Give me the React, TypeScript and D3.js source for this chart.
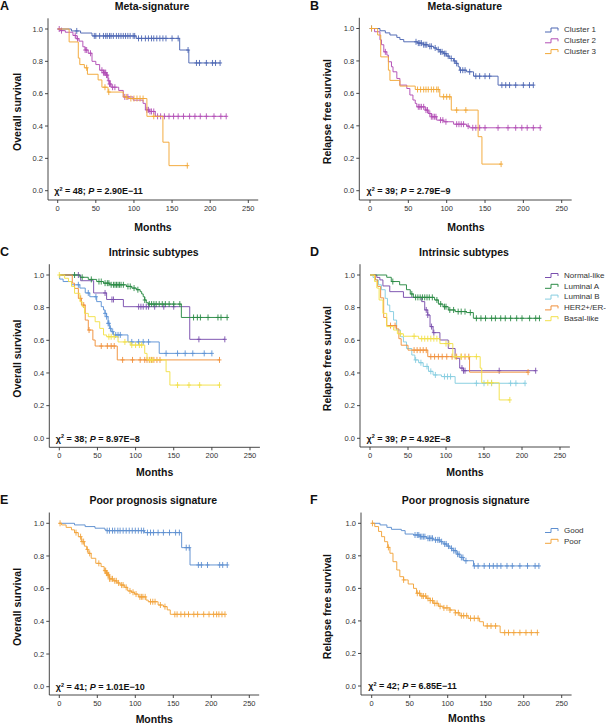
import React from 'react';
import * as d3 from 'd3';

type Step = [number, number];

const monthTicks = [0, 50, 100, 150, 200, 250];
const survTicks = [0, 0.2, 0.4, 0.6, 0.8, 1.0];

// ---------- Panel A: Meta-signature, overall survival ----------
const A_c1_steps: Step[] = [[18, 0.988], [30, 0.975], [45, 0.957], [103, 0.942], [160, 0.87], [172, 0.79]];
const A_c1_censor = [25, 48, 50, 55, 60, 63, 65, 68, 70, 73, 77, 80, 83, 86, 89, 92, 95, 99, 101, 106, 110, 115, 119, 123, 126, 130, 134, 138, 142, 150, 158, 171, 182, 186, 195, 203, 207, 213];
const A_c2_steps: Step[] = [[3, 0.99], [10, 0.98], [20, 0.96], [24, 0.94], [28, 0.925], [33, 0.89], [36, 0.87], [40, 0.85], [45, 0.8], [50, 0.78], [55, 0.745], [60, 0.73], [64, 0.715], [66, 0.68], [68, 0.66], [70, 0.64], [80, 0.62], [86, 0.58], [99, 0.56], [112, 0.54], [115, 0.5], [120, 0.49], [128, 0.46]];
const A_c2_censor = [2, 5, 23, 26, 36, 38, 43, 58, 60, 61, 62, 63, 64, 65, 67, 68, 69, 72, 75, 88, 92, 117, 119, 121, 123, 126, 131, 135, 140, 146, 152, 158, 165, 173, 180, 187, 195, 205, 214, 221];
const A_c3_steps: Step[] = [[15, 0.92], [27, 0.82], [29, 0.78], [35, 0.76], [39, 0.72], [53, 0.685], [58, 0.64], [66, 0.61], [86, 0.58], [92, 0.57], [117, 0.46], [138, 0.3], [146, 0.155]];
const A_c3_censor = [38, 62, 67, 90, 96, 100, 104, 108, 112, 126, 170];

// ---------- Panel B: Meta-signature, relapse free survival ----------
const B_c1_steps: Step[] = [[13, 0.986], [20, 0.973], [26, 0.96], [35, 0.945], [39, 0.932], [44, 0.918], [62, 0.91], [70, 0.9], [76, 0.89], [83, 0.88], [87, 0.87], [91, 0.856], [96, 0.845], [100, 0.83], [104, 0.815], [109, 0.8], [112, 0.785], [115, 0.764], [117, 0.743], [126, 0.733], [135, 0.706], [167, 0.651]];
const B_c1_censor = [2, 60, 63, 65, 67, 70, 72, 74, 78, 80, 85, 89, 92, 94, 97, 99, 102, 106, 110, 113, 118, 121, 124, 130, 138, 143, 150, 156, 172, 177, 182, 190, 200, 208, 213];
const B_c2_steps: Step[] = [[6, 0.98], [13, 0.93], [15, 0.9], [18, 0.856], [22, 0.836], [24, 0.795], [28, 0.764], [30, 0.733], [35, 0.692], [39, 0.651], [48, 0.63], [52, 0.59], [56, 0.559], [59, 0.538], [61, 0.517], [72, 0.497], [76, 0.476], [80, 0.456], [87, 0.435], [96, 0.425], [109, 0.41], [126, 0.398], [130, 0.388]];
const B_c2_censor = [20, 63, 65, 67, 70, 73, 75, 78, 80, 82, 84, 86, 92, 95, 99, 113, 116, 119, 122, 128, 134, 138, 143, 150, 167, 180, 190, 198, 205, 213, 222];
const B_c3_steps: Step[] = [[10, 0.96], [14, 0.825], [24, 0.743], [26, 0.68], [39, 0.645], [59, 0.624], [91, 0.579], [106, 0.497], [141, 0.333], [146, 0.164]];
const B_c3_censor = [2, 62, 66, 70, 73, 76, 80, 83, 87, 89, 96, 100, 104, 113, 125, 171];

// ---------- Panel C: Intrinsic subtypes, overall survival ----------
const C_norm_steps: Step[] = [[28, 0.965], [45, 0.89], [62, 0.85], [84, 0.806], [171, 0.606]];
const C_norm_censor = [25, 60, 69, 71, 104, 107, 110, 114, 117, 125, 137, 150, 183, 217];
const C_lumA_steps: Step[] = [[27, 0.986], [38, 0.973], [49, 0.96], [58, 0.95], [66, 0.94], [88, 0.93], [95, 0.92], [101, 0.91], [106, 0.898], [108, 0.884], [110, 0.867], [112, 0.847], [114, 0.83], [117, 0.822], [160, 0.74]];
const C_lumA_censor = [20, 30, 42, 52, 55, 60, 63, 65, 68, 71, 73, 75, 77, 79, 81, 84, 90, 93, 98, 103, 112, 118, 121, 124, 127, 131, 135, 139, 144, 150, 158, 176, 181, 185, 195, 208, 212, 220];
const C_lumB_steps: Step[] = [[0.5, 0.975], [5, 0.96], [16, 0.94], [27, 0.92], [34, 0.89], [40, 0.867], [49, 0.837], [55, 0.806], [58, 0.786], [60, 0.765], [62, 0.745], [64, 0.704], [66, 0.673], [68, 0.653], [71, 0.633], [90, 0.59], [131, 0.52]];
const C_lumB_censor = [25, 38, 48, 60, 62, 64, 65, 67, 70, 74, 77, 80, 95, 104, 110, 117, 140, 155, 165, 175, 190, 200];
const C_her2_steps: Step[] = [[17, 0.95], [20, 0.918], [25, 0.857], [29, 0.816], [34, 0.724], [38, 0.663], [44, 0.602], [47, 0.565], [76, 0.48]];
const C_her2_censor = [28, 32, 39, 55, 63, 68, 72, 83, 96, 106, 112, 115, 118, 121, 124, 128, 132, 210];
const C_basal_steps: Step[] = [[7, 0.98], [12, 0.96], [16, 0.93], [20, 0.888], [27, 0.837], [30, 0.806], [33, 0.765], [38, 0.745], [47, 0.714], [53, 0.673], [58, 0.633], [62, 0.622], [77, 0.59], [93, 0.571], [112, 0.52], [115, 0.48], [140, 0.408], [145, 0.326]];
const C_basal_censor = [0, 65, 68, 72, 86, 95, 100, 105, 108, 119, 122, 155, 170, 184, 210];

// ---------- Panel D: Intrinsic subtypes, relapse free survival ----------
const D_norm_steps: Step[] = [[9, 0.985], [13, 0.97], [17, 0.933], [26, 0.898], [44, 0.863], [68, 0.837], [72, 0.786], [76, 0.755], [79, 0.684], [83, 0.647], [92, 0.602], [103, 0.55], [112, 0.49], [118, 0.43], [123, 0.414]];
const D_norm_censor = [74, 76, 81, 84, 121, 123, 125, 170, 218];
const D_lumA_steps: Step[] = [[22, 0.986], [28, 0.96], [39, 0.94], [48, 0.91], [53, 0.884], [57, 0.863], [85, 0.847], [90, 0.822], [96, 0.806], [103, 0.786], [112, 0.776], [127, 0.77], [136, 0.735]];
const D_lumA_censor = [30, 55, 60, 63, 66, 69, 72, 75, 78, 82, 88, 93, 98, 100, 105, 110, 116, 120, 125, 132, 140, 146, 152, 160, 165, 172, 178, 185, 193, 200, 210, 218, 223];
const D_lumB_steps: Step[] = [[4, 0.985], [7, 0.97], [11, 0.94], [15, 0.91], [20, 0.857], [23, 0.816], [26, 0.776], [31, 0.724], [35, 0.663], [40, 0.622], [44, 0.59], [48, 0.55], [55, 0.51], [59, 0.48], [64, 0.463], [70, 0.44], [77, 0.41], [83, 0.388], [94, 0.378], [112, 0.337]];
const D_lumB_censor = [60, 67, 75, 80, 86, 98, 102, 106, 140, 150, 160, 185, 192, 204];
const D_her2_steps: Step[] = [[7, 0.97], [10, 0.93], [14, 0.86], [18, 0.74], [22, 0.69], [35, 0.67], [38, 0.61], [41, 0.57], [50, 0.54], [76, 0.5], [131, 0.405]];
const D_her2_censor = [27, 33, 58, 62, 66, 70, 74, 80, 85, 90, 95, 101, 108, 114, 120, 125, 130, 208];
const D_basal_steps: Step[] = [[6, 0.96], [9, 0.92], [12, 0.847], [17, 0.765], [22, 0.684], [31, 0.663], [36, 0.64], [44, 0.625], [64, 0.61], [92, 0.58], [109, 0.5], [145, 0.43], [147, 0.34], [170, 0.235]];
const D_basal_censor = [40, 58, 68, 72, 76, 80, 84, 88, 100, 104, 112, 120, 140, 155, 160, 184];

// ---------- Panel E: Poor prognosis signature, overall survival ----------
const E_good_steps: Step[] = [[20, 0.99], [34, 0.98], [47, 0.97], [60, 0.96], [62, 0.955], [112, 0.943], [161, 0.851], [172, 0.745]];
const E_good_censor = [63, 66, 70, 73, 77, 80, 84, 88, 92, 96, 100, 104, 108, 111, 116, 120, 124, 130, 137, 145, 153, 158, 167, 171, 183, 187, 195, 211, 215, 221];
const E_poor_steps: Step[] = [[3, 0.99], [9, 0.975], [16, 0.96], [20, 0.943], [25, 0.918], [29, 0.888], [33, 0.86], [36, 0.84], [38, 0.816], [42, 0.786], [48, 0.755], [55, 0.735], [59, 0.71], [62, 0.695], [64, 0.684], [66, 0.66], [71, 0.648], [76, 0.635], [80, 0.622], [86, 0.608], [90, 0.586], [95, 0.578], [99, 0.567], [104, 0.55], [114, 0.53], [117, 0.52], [130, 0.5], [137, 0.49], [142, 0.47], [146, 0.443]];
const E_poor_censor = [1, 22, 28, 30, 32, 37, 40, 52, 60, 61, 62, 63, 64, 65, 66, 68, 70, 73, 75, 78, 82, 84, 88, 93, 97, 101, 106, 108, 110, 113, 120, 123, 126, 133, 139, 152, 155, 160, 165, 170, 177, 182, 190, 197, 203, 207, 210, 214, 218];

// ---------- Panel F: Poor prognosis signature, relapse free survival ----------
const F_good_steps: Step[] = [[11, 0.99], [20, 0.975], [26, 0.963], [39, 0.955], [44, 0.934], [55, 0.928], [64, 0.918], [72, 0.908], [81, 0.898], [90, 0.887], [94, 0.873], [99, 0.86], [103, 0.846], [107, 0.832], [112, 0.81], [116, 0.79], [121, 0.77], [134, 0.738]];
const F_good_censor = [57, 60, 62, 64, 66, 68, 70, 74, 76, 78, 80, 84, 87, 89, 92, 96, 98, 101, 105, 108, 110, 113, 115, 118, 120, 124, 135, 140, 148, 155, 160, 165, 170, 178, 185, 195, 205, 215, 220];
const F_poor_steps: Step[] = [[4, 0.98], [9, 0.95], [13, 0.918], [17, 0.887], [21, 0.852], [24, 0.816], [28, 0.764], [33, 0.713], [37, 0.672], [42, 0.652], [48, 0.627], [55, 0.6], [59, 0.57], [64, 0.553], [72, 0.539], [77, 0.525], [81, 0.508], [88, 0.49], [94, 0.48], [103, 0.467], [110, 0.45], [116, 0.432], [127, 0.416], [142, 0.395], [147, 0.369], [169, 0.328]];
const F_poor_censor = [1, 22, 42, 60, 63, 66, 68, 71, 74, 77, 80, 83, 86, 90, 95, 99, 103, 110, 114, 118, 121, 125, 130, 135, 140, 152, 157, 163, 175, 180, 187, 195, 203, 210, 218];

// ---------- colours ----------
const C1 = '#4d66b3';
const C2 = '#b24fb5';
const C3 = '#f2a838';
const NORM = '#7a4fae';
const LUMA = '#2a8a45';
const LUMB_OS = '#5e93d6';
const LUMB_RFS = '#86cde0';
const HER2 = '#f0903a';
const BASAL = '#f2e04a';
const GOOD = '#5e8fd0';
const POOR = '#f2a43c';

interface Curve { name: string; color: string; steps: Step[]; censor: number[] }
interface Layout { yAxisX: number; x0: number; x250: number; y1: number; y0: number; axisY: number; letterX: number; monthsDy: number; legendY?: number }
interface Panel { letter: string; title: string; yLabel: string; chi: string; p: string; curves: Curve[]; legend: boolean; layout: Layout }

const panels: Panel[] = [
  {
    letter: 'A', title: 'Meta-signature', yLabel: 'Overall survival', chi: '48', p: '2.90E\u221211', legend: false,
    curves: [
      { name: 'Cluster 1', color: C1, steps: A_c1_steps, censor: A_c1_censor },
      { name: 'Cluster 2', color: C2, steps: A_c2_steps, censor: A_c2_censor },
      { name: 'Cluster 3', color: C3, steps: A_c3_steps, censor: A_c3_censor },
    ],
    layout: { yAxisX: 48, x0: 57.7, x250: 248.3, y1: 29, y0: 190.7, axisY: 200, letterX: 0, monthsDy: 31 },
  },
  {
    letter: 'B', title: 'Meta-signature', yLabel: 'Relapse free survival', chi: '39', p: '2.79E\u22129', legend: true,
    curves: [
      { name: 'Cluster 1', color: C1, steps: B_c1_steps, censor: B_c1_censor },
      { name: 'Cluster 2', color: C2, steps: B_c2_steps, censor: B_c2_censor },
      { name: 'Cluster 3', color: C3, steps: B_c3_steps, censor: B_c3_censor },
    ],
    layout: { yAxisX: 359.3, x0: 370, x250: 561.7, y1: 28.5, y0: 190.7, axisY: 200, letterX: 310, monthsDy: 31, legendY: 29.5 },
  },
  {
    letter: 'C', title: 'Intrinsic subtypes', yLabel: 'Overall survival', chi: '38', p: '8.97E\u22128', legend: false,
    curves: [
      { name: 'Normal-like', color: NORM, steps: C_norm_steps, censor: C_norm_censor },
      { name: 'Luminal A', color: LUMA, steps: C_lumA_steps, censor: C_lumA_censor },
      { name: 'Luminal B', color: LUMB_OS, steps: C_lumB_steps, censor: C_lumB_censor },
      { name: 'HER2+/ER-', color: HER2, steps: C_her2_steps, censor: C_her2_censor },
      { name: 'Basal-like', color: BASAL, steps: C_basal_steps, censor: C_basal_censor },
    ],
    layout: { yAxisX: 49.3, x0: 59.3, x250: 250, y1: 275, y0: 438.3, axisY: 447.3, letterX: 0, monthsDy: 29 },
  },
  {
    letter: 'D', title: 'Intrinsic subtypes', yLabel: 'Relapse free survival', chi: '39', p: '4.92E\u22128', legend: true,
    curves: [
      { name: 'Normal-like', color: NORM, steps: D_norm_steps, censor: D_norm_censor },
      { name: 'Luminal A', color: LUMA, steps: D_lumA_steps, censor: D_lumA_censor },
      { name: 'Luminal B', color: LUMB_RFS, steps: D_lumB_steps, censor: D_lumB_censor },
      { name: 'HER2+/ER-', color: HER2, steps: D_her2_steps, censor: D_her2_censor },
      { name: 'Basal-like', color: BASAL, steps: D_basal_steps, censor: D_basal_censor },
    ],
    layout: { yAxisX: 360, x0: 370, x250: 560, y1: 275, y0: 438.3, axisY: 447, letterX: 310, monthsDy: 29, legendY: 275 },
  },
  {
    letter: 'E', title: 'Poor prognosis signature', yLabel: 'Overall survival', chi: '41', p: '1.01E\u221210', legend: false,
    curves: [
      { name: 'Good', color: GOOD, steps: E_good_steps, censor: E_good_censor },
      { name: 'Poor', color: POOR, steps: E_poor_steps, censor: E_poor_censor },
    ],
    layout: { yAxisX: 49.3, x0: 59.3, x250: 249.3, y1: 523.3, y0: 686.7, axisY: 695, letterX: 0, monthsDy: 28 },
  },
  {
    letter: 'F', title: 'Poor prognosis signature', yLabel: 'Relapse free survival', chi: '42', p: '6.85E\u221211', legend: true,
    curves: [
      { name: 'Good', color: GOOD, steps: F_good_steps, censor: F_good_censor },
      { name: 'Poor', color: POOR, steps: F_poor_steps, censor: F_poor_censor },
    ],
    layout: { yAxisX: 361, x0: 371.7, x250: 561.7, y1: 523.3, y0: 686, axisY: 695, letterX: 310, monthsDy: 27, legendY: 530 },
  },
];

const FONT = 'Arial, "Liberation Sans", Helvetica, sans-serif';

function survAt(steps: Step[], t: number): number {
  let s = 1;
  for (const [tt, v] of steps) { if (tt <= t) s = v; else break; }
  return s;
}

function PanelView({ p }: { p: Panel }) {
  const L = p.layout;
  const x = d3.scaleLinear().domain([0, 250]).range([L.x0, L.x250]);
  const y = d3.scaleLinear().domain([0, 1]).range([L.y0, L.y1]);
  const xEnd = x(263);
  const yTop = y(1.066);
  const line = d3.line<Step>().x(d => x(d[0])).y(d => y(d[1])).curve(d3.curveStepAfter);
  const midX = (L.x0 + L.x250) / 2;
  const midY = (L.y0 + L.y1) / 2;
  const axisColor = '#333';
  const titleY = Math.max(L.y1 - 19.5, 10);
  return (
    <g>
      {/* letter + title */}
      <text x={L.letterX} y={titleY} fontFamily={FONT} fontWeight="bold" fontSize={12.5} fill="#111">{p.letter}</text>
      <text x={midX - 1} y={titleY} textAnchor="middle" fontFamily={FONT} fontWeight="bold" fontSize={10.5} fill="#111">{p.title}</text>
      {/* axes */}
      <path d={`M${L.yAxisX},${yTop}V${L.axisY}H${xEnd}`} fill="none" stroke={axisColor} strokeWidth={0.9} />
      {survTicks.map(t => (
        <g key={'y' + t}>
          <line x1={L.yAxisX - 3} x2={L.yAxisX} y1={y(t)} y2={y(t)} stroke={axisColor} strokeWidth={0.9} />
          <text x={L.yAxisX - 5} y={y(t) + 2.7} textAnchor="end" fontFamily={FONT} fontSize={7.5} fill="#333">{t.toFixed(1)}</text>
        </g>
      ))}
      {monthTicks.map(t => (
        <g key={'x' + t}>
          <line x1={x(t)} x2={x(t)} y1={L.axisY} y2={L.axisY + 3} stroke={axisColor} strokeWidth={0.9} />
          <text x={x(t)} y={L.axisY + 11} textAnchor="middle" fontFamily={FONT} fontSize={7.5} fill="#333">{t}</text>
        </g>
      ))}
      <text x={midX} y={L.axisY + L.monthsDy} textAnchor="middle" fontFamily={FONT} fontWeight="bold" fontSize={10.5} fill="#111">Months</text>
      <text transform={`translate(${L.letterX + 21},${midY + 2}) rotate(-90)`} textAnchor="middle" fontFamily={FONT} fontWeight="bold" fontSize={10.5} fill="#111">{p.yLabel}</text>
      {/* curves */}
      {p.curves.map((c, i) => {
        const last = c.steps[c.steps.length - 1];
        const end = Math.max(last[0], d3.max(c.censor) ?? 0);
        const pts: Step[] = [[0, 1], ...c.steps, [end, last[1]]];
        return (
          <g key={'c' + i}>
            <path d={line(pts) ?? ''} fill="none" stroke={c.color} strokeWidth={1} strokeOpacity={0.95} />
            {c.censor.map((t, j) => {
              const cx = x(t);
              const cy = y(survAt(c.steps, t));
              return (
                <path key={j} d={`M${cx},${cy - 3}V${cy + 3}M${cx - 2},${cy}H${cx + 2}`} stroke={c.color} strokeWidth={0.9} fill="none" />
              );
            })}
          </g>
        );
      })}
      {/* chi-square text */}
      <text x={L.x0 - 3.5} y={L.y0 + 3.3} fontFamily={FONT} fontWeight="bold" fontSize={9} fill="#111">
        <tspan>{'\u03c7'}</tspan>
        <tspan fontSize={5.5} dy={-3.5}>2</tspan>
        <tspan dy={3.5}>{` = ${p.chi}; `}</tspan>
        <tspan fontStyle="italic">P</tspan>
        <tspan>{` = ${p.p}`}</tspan>
      </text>
      {/* legend */}
      {p.legend && p.curves.map((c, i) => {
        const ly = (L.legendY ?? 0) + i * 10.8;
        const lx = 545;
        return (
          <g key={'l' + i}>
            <path d={`M${lx},${ly + 2.5}H${lx + 6}V${ly - 1.5}H${lx + 13}V${ly + 1}`} fill="none" stroke={c.color} strokeWidth={1} />
            <text x={lx + 19} y={ly + 2.8} fontFamily={FONT} fontSize={8} fill="#333">{c.name}</text>
          </g>
        );
      })}
    </g>
  );
}

export default function App() {
  return (
    <svg width={606} height={724} viewBox="0 0 606 724" style={{ position: 'absolute', left: 0, top: 0, background: '#fff' }}>
      <rect width={606} height={724} fill="#fff" />
      {panels.map(p => <PanelView key={p.letter} p={p} />)}
    </svg>
  );
}
